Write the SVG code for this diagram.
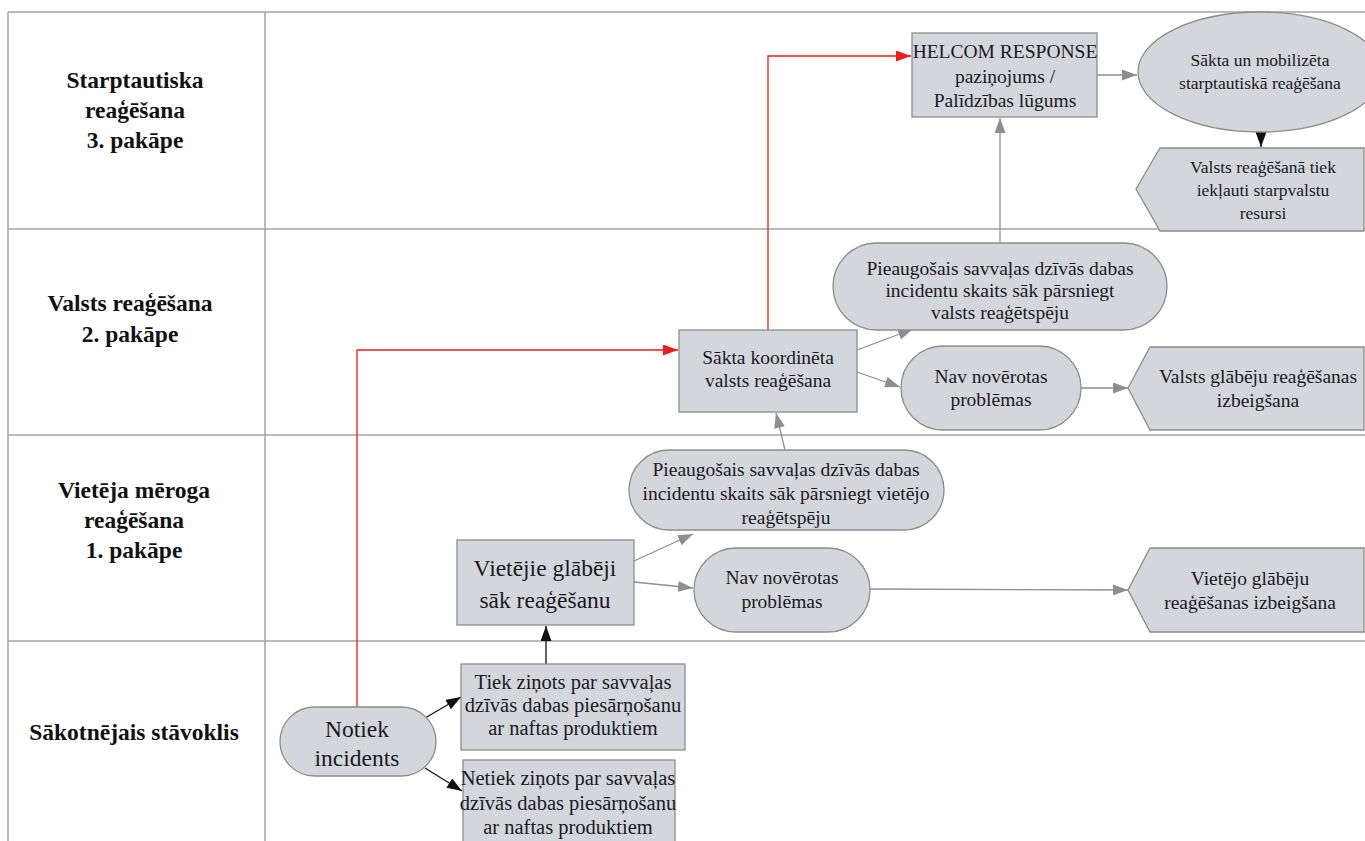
<svg xmlns="http://www.w3.org/2000/svg" width="1365" height="841" viewBox="0 0 1365 841">
  <style>
    .grid { stroke: #a3a3a3; stroke-width: 1.5; fill: none; }
    .lane { font-family: "Liberation Serif", "DejaVu Serif", serif; font-weight: bold; font-size: 23.5px; fill: #111; text-anchor: middle; }
    .shape { fill: #d3d6da; stroke: #8c8c8c; stroke-width: 1.3; }
    .t, .ts, .tm, .tl { font-family: "Liberation Serif", "DejaVu Serif", serif; fill: #1a1a24; text-anchor: middle; }
    .ts { font-size: 17.5px; }
    .t { font-size: 19.5px; }
    .tm { font-size: 20.5px; }
    .tl { font-size: 23.5px; }
    .cg { stroke: #8e8e8e; stroke-width: 1.3; fill: none; }
    .cb { stroke: #111; stroke-width: 1.3; fill: none; }
    .cr { stroke: #ee1c1c; stroke-width: 1.3; fill: none; }
  </style>
  <defs>
    <marker id="ag" viewBox="0 0 15 11" refX="15" refY="5.5" markerWidth="15" markerHeight="11" markerUnits="userSpaceOnUse" orient="auto">
      <path d="M0,0 L15,5.5 L0,11 z" fill="#8e8e8e"/>
    </marker>
    <marker id="ab" viewBox="0 0 15 11" refX="15" refY="5.5" markerWidth="15" markerHeight="11" markerUnits="userSpaceOnUse" orient="auto">
      <path d="M0,0 L15,5.5 L0,11 z" fill="#111"/>
    </marker>
    <marker id="ar" viewBox="0 0 15 11" refX="15" refY="5.5" markerWidth="15" markerHeight="11" markerUnits="userSpaceOnUse" orient="auto">
      <path d="M0,0 L15,5.5 L0,11 z" fill="#ee1c1c"/>
    </marker>
  </defs>

  <rect width="1365" height="841" fill="#ffffff"/>

  <!-- swimlane grid -->
  <g id="lanes">
    <line class="grid" x1="8" y1="12" x2="1365" y2="12"/>
    <line class="grid" x1="8" y1="12" x2="8" y2="841"/>
    <line class="grid" x1="265" y1="12" x2="265" y2="841"/>
    <line class="grid" x1="8" y1="229" x2="1365" y2="229"/>
    <line class="grid" x1="8" y1="435" x2="1365" y2="435"/>
    <line class="grid" x1="8" y1="641" x2="1365" y2="641"/>
    <text class="lane" x="135" y="88">Starptautiska</text>
    <text class="lane" x="135" y="118">reaģēšana</text>
    <text class="lane" x="135" y="148">3. pakāpe</text>
    <text class="lane" x="130" y="311">Valsts reaģēšana</text>
    <text class="lane" x="130" y="342">2. pakāpe</text>
    <text class="lane" x="134" y="498">Vietēja mēroga</text>
    <text class="lane" x="134" y="528">reaģēšana</text>
    <text class="lane" x="134" y="558">1. pakāpe</text>
    <text class="lane" x="134" y="740">Sākotnējais stāvoklis</text>
  </g>

  <!-- connectors -->
  <g id="connectors">
    <polyline class="cr" points="357,707 357,350 678,350" marker-end="url(#ar)"/>
    <polyline class="cr" points="768,330 768,56 911,56" marker-end="url(#ar)"/>
    <line class="cg" x1="1000" y1="243" x2="1000" y2="118" marker-end="url(#ag)"/>
    <line class="cg" x1="1090" y1="75" x2="1137" y2="75" marker-end="url(#ag)"/>
    <line class="cb" x1="1261" y1="131" x2="1261" y2="147" marker-end="url(#ab)"/>
    <line class="cg" x1="857" y1="350" x2="913" y2="329" marker-end="url(#ag)"/>
    <line class="cg" x1="857" y1="372" x2="900" y2="387" marker-end="url(#ag)"/>
    <line class="cg" x1="1081" y1="388" x2="1128" y2="388" marker-end="url(#ag)"/>
    <line class="cg" x1="785" y1="450" x2="776" y2="413" marker-end="url(#ag)"/>
    <line class="cg" x1="634" y1="561" x2="693" y2="534" marker-end="url(#ag)"/>
    <line class="cg" x1="634" y1="582" x2="693" y2="588" marker-end="url(#ag)"/>
    <line class="cg" x1="870" y1="589" x2="1128" y2="590" marker-end="url(#ag)"/>
    <line class="cb" x1="546" y1="664" x2="546" y2="626" marker-end="url(#ab)"/>
    <line class="cb" x1="425" y1="718" x2="461" y2="697" marker-end="url(#ab)"/>
    <line class="cb" x1="425" y1="768" x2="462" y2="791" marker-end="url(#ab)"/>
  </g>

  <!-- international level -->
  <g id="helcom">
    <rect class="shape" x="912" y="33" width="185" height="84"/>
    <text class="t" x="1005" y="58">HELCOM RESPONSE</text>
    <text class="t" x="1005" y="83">paziņojums /</text>
    <text class="t" x="1005" y="107">Palīdzības lūgums</text>
  </g>
  <g id="intl-mobilised">
    <ellipse class="shape" cx="1260" cy="72" rx="122" ry="60"/>
    <text class="ts" x="1260" y="66">Sākta un mobilizēta</text>
    <text class="ts" x="1260" y="89">starptautiskā reaģēšana</text>
  </g>
  <g id="intl-resources">
    <polygon class="shape" points="1136,189 1160,148 1364,148 1364,231 1160,231"/>
    <text class="ts" x="1263" y="173">Valsts reaģēšanā tiek</text>
    <text class="ts" x="1263" y="196">iekļauti starpvalstu</text>
    <text class="ts" x="1263" y="219">resursi</text>
  </g>

  <!-- national level -->
  <g id="national-overload">
    <rect class="shape" x="833" y="243" width="334" height="87" rx="43.5"/>
    <text class="t" x="1000" y="275">Pieaugošais savvaļas dzīvās dabas</text>
    <text class="t" x="1000" y="297">incidentu skaits sāk pārsniegt</text>
    <text class="t" x="1000" y="319">valsts reaģētspēju</text>
  </g>
  <g id="national-start">
    <rect class="shape" x="679" y="330" width="178" height="82"/>
    <text class="t" x="768" y="364">Sākta koordinēta</text>
    <text class="t" x="768" y="387">valsts reaģēšana</text>
  </g>
  <g id="national-ok">
    <rect class="shape" x="901" y="346" width="180" height="84" rx="42"/>
    <text class="t" x="991" y="383">Nav novērotas</text>
    <text class="t" x="991" y="406">problēmas</text>
  </g>
  <g id="national-end">
    <polygon class="shape" points="1128,388 1150,347 1364,347 1364,430 1150,430"/>
    <text class="t" x="1258" y="383">Valsts glābēju reaģēšanas</text>
    <text class="t" x="1258" y="407">izbeigšana</text>
  </g>

  <!-- local level -->
  <g id="local-overload">
    <rect class="shape" x="629" y="450" width="315" height="80" rx="40"/>
    <text class="t" x="786" y="476">Pieaugošais savvaļas dzīvās dabas</text>
    <text class="t" x="786" y="500">incidentu skaits sāk pārsniegt vietējo</text>
    <text class="t" x="786" y="524">reaģētspēju</text>
  </g>
  <g id="local-start">
    <rect class="shape" x="457" y="540" width="177" height="85"/>
    <text class="tl" x="545" y="576">Vietējie glābēji</text>
    <text class="tl" x="545" y="608">sāk reaģēšanu</text>
  </g>
  <g id="local-ok">
    <rect class="shape" x="694" y="548" width="176" height="84" rx="42"/>
    <text class="t" x="782" y="584">Nav novērotas</text>
    <text class="t" x="782" y="608">problēmas</text>
  </g>
  <g id="local-end">
    <polygon class="shape" points="1128,590 1150,548 1364,548 1364,632 1150,632"/>
    <text class="t" x="1250" y="585">Vietējo glābēju</text>
    <text class="t" x="1250" y="609">reaģēšanas izbeigšana</text>
  </g>

  <!-- initial state -->
  <g id="incident">
    <rect class="shape" x="280" y="707" width="156" height="69" rx="34.5"/>
    <text class="tl" x="357" y="737">Notiek</text>
    <text class="tl" x="357" y="766">incidents</text>
  </g>
  <g id="reported">
    <rect class="shape" x="461" y="664" width="224" height="86"/>
    <text class="tm" x="573" y="689">Tiek ziņots par savvaļas</text>
    <text class="tm" x="573" y="712">dzīvās dabas piesārņošanu</text>
    <text class="tm" x="573" y="735">ar naftas produktiem</text>
  </g>
  <g id="not-reported">
    <rect class="shape" x="463" y="760" width="212" height="90"/>
    <text class="tm" x="568" y="785">Netiek ziņots par savvaļas</text>
    <text class="tm" x="568" y="810">dzīvās dabas piesārņošanu</text>
    <text class="tm" x="568" y="834">ar naftas produktiem</text>
  </g>
</svg>
